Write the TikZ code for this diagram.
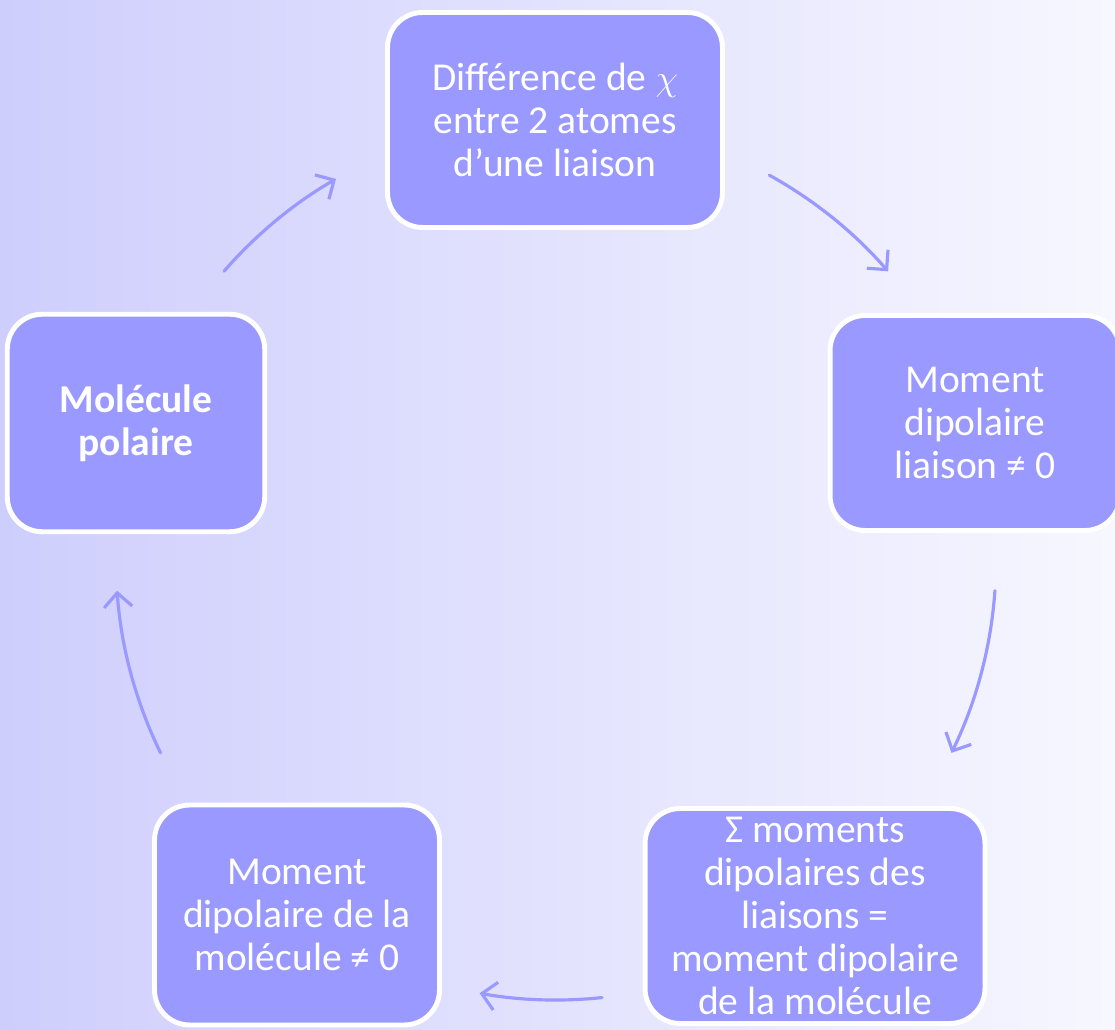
\documentclass[tikz,border=0pt]{standalone}
\usepackage{fontspec}
\setmainfont{Carlito}
\usepackage{xcolor}
\usepackage{tikz}
\usetikzlibrary{arrows.meta, positioning}

\definecolor{violetBoite}{RGB}{153,153,255}
\definecolor{fondGauche}{RGB}{206,206,253}
\definecolor{fondDroite}{RGB}{247,247,255}

\begin{document}
\begin{tikzpicture}[x=0.02cm,y=0.02cm,
    etape/.style={draw=white, line width=2.8pt, fill=violetBoite, rounded corners=0.7cm,
      text=white, align=center, font=\fontsize{22.5}{24.4}\selectfont, inner sep=0pt},
    fleche/.style={draw=violetBoite, line width=1.8pt, line cap=round,
      -{Straight Barb[length=8pt,width=16pt,line width=1.8pt]}}]
                % Fond en dégradé
                \clip (0,0) rectangle (1115,1030);
                \fill[left color=fondGauche, right color=fondDroite] (0,0) rectangle (1115,1030);

                % Les cinq étapes du cycle
                \node[etape, minimum width=6.7cm, minimum height=4.3cm] (chi) at (555, 910) {Différence de $\chi$\\entre 2 atomes\\d’une liaison};
                \node[etape, minimum width=5.8cm, minimum height=4.3cm] (liaison) at (975, 607) {Moment\\dipolaire\\liaison ≠ 0};
                \node[etape, minimum width=6.8cm, minimum height=4.3cm] (somme) at (815, 114) {Σ moments\\dipolaires des\\liaisons =\\moment dipolaire\\de la molécule};
                \node[etape, minimum width=5.7cm, minimum height=4.4cm] (molecule) at (297, 115) {Moment\\dipolaire de la\\molécule ≠ 0};
                \node[etape, minimum width=5.15cm, minimum height=4.35cm] (polaire) at (136, 607) {\bfseries Molécule\\\bfseries polaire};

                % Centre du cercle et départs des flèches
                \coordinate (c) at (556, 470);
                \path (c) ++(139:440) coordinate (d1);
                \path (c) ++(61:440) coordinate (d2);
                \path (c) ++(-4:440) coordinate (d3);
                \path (c) ++(-84:440) coordinate (d4);
                \path (c) ++(206:440) coordinate (d5);

                % Flèches en arc de cercle
                \draw[fleche] (d1) arc[start angle=139, end angle=120, radius=440];
                \draw[fleche] (d2) arc[start angle=61, end angle=41, radius=440];
                \draw[fleche] (d3) arc[start angle=-4, end angle=-26, radius=440];
                \draw[fleche] (d4) arc[start angle=-84, end angle=-100, radius=440];
                \draw[fleche] (d5) arc[start angle=206, end angle=184, radius=440];
              \end{tikzpicture}
\end{document}
